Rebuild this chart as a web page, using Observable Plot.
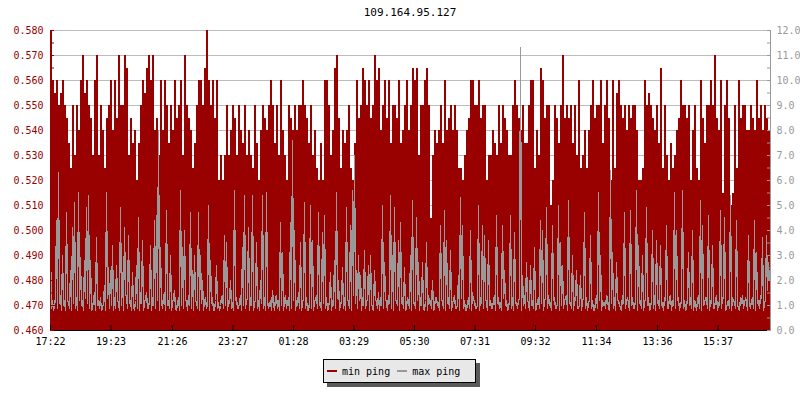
<!DOCTYPE html>
<html><head><meta charset="utf-8">
<script src="https://cdn.jsdelivr.net/npm/d3@7"></script>
<script src="https://cdn.jsdelivr.net/npm/@observablehq/plot@0.6"></script>
<style>
body{margin:0;background:#fff;font-family:"DejaVu Sans Mono",monospace;}
#wrap{position:relative;width:800px;height:400px;overflow:hidden;}
#title{position:absolute;left:50px;width:720px;top:6px;text-align:center;font-size:11px;color:#000;}
#legend{position:absolute;left:323px;top:359px;width:153px;height:24px;box-sizing:border-box;border:1px solid #000;background:#e8e8e8;box-shadow:4px 4px 0 #5a5a5a;display:flex;align-items:center;padding-left:3px;font-size:10px;color:#000;}
#legend .sw{display:inline-block;width:10px;height:2px;margin-right:5px;}
#legend .it{display:flex;align-items:center;margin-right:7px;}
</style></head><body>
<div id="wrap"><div id="chart"></div><div id="title"></div><div id="legend"></div></div>
<script>
const title = "109.164.95.127";
const seriesNames = ["min ping", "max ping"];
const seriesColors = ["#990000", "#999999"];
const startTime = "17:22";
const minStepMinutes = 4;
const maxStepMinutes = 2;
const spanMinutes = 1440;
const timeLabels = ["17:22","19:23","21:26","23:27","01:28","03:29","05:30","07:31","09:32","11:34","13:36","15:37"];
const leftDomain = [0.46, 0.58];
const rightDomain = [0, 12];
const leftTicks = [0.46,0.47,0.48,0.49,0.50,0.51,0.52,0.53,0.54,0.55,0.56,0.57,0.58];
const leftMinorTicks = [0.465,0.475,0.485,0.495,0.505,0.515,0.525,0.535,0.545,0.555,0.565,0.575];

// min ping (left axis, ms) one value every 4 minutes
const minPing = [
0.58,0.56,0.555,0.56,0.55, 0.555,0.56,0.55,0.545,0.535, 0.525,0.55,0.53,0.55,0.54, 0.56,0.57,0.555,0.56,0.55,
0.545,0.53,0.56,0.57,0.53, 0.55,0.54,0.525,0.545,0.55, 0.56,0.54,0.56,0.545,0.57, 0.55,0.55,0.57,0.565,0.53,
0.545,0.535,0.54,0.52,0.535, 0.55,0.56,0.555,0.565,0.57, 0.56,0.57,0.54,0.545,0.53, 0.56,0.54,0.56,0.55,0.535,
0.55,0.54,0.56,0.545,0.55, 0.56,0.53,0.57,0.55,0.545, 0.54,0.525,0.535,0.55,0.56, 0.56,0.55,0.565,0.58,0.56,
0.55,0.56,0.545,0.56,0.52, 0.53,0.52,0.53,0.55,0.53, 0.54,0.55,0.545,0.53,0.55, 0.54,0.535,0.55,0.53,0.54,
0.53,0.525,0.55,0.535,0.52, 0.54,0.55,0.545,0.54,0.55, 0.56,0.55,0.535,0.55,0.53, 0.56,0.54,0.53,0.52,0.55,
0.545,0.54,0.55,0.54,0.55, 0.55,0.56,0.55,0.545,0.535, 0.55,0.53,0.54,0.525,0.52, 0.535,0.52,0.56,0.56,0.55,
0.53,0.54,0.565,0.57,0.545, 0.525,0.54,0.535,0.54,0.55, 0.525,0.52,0.535,0.56,0.545, 0.55,0.565,0.56,0.55,0.56,
0.545,0.55,0.57,0.56,0.565, 0.54,0.55,0.56,0.545,0.56, 0.535,0.55,0.55,0.545,0.56, 0.535,0.54,0.55,0.56,0.54,
0.55,0.565,0.56,0.565,0.53, 0.55,0.55,0.56,0.565,0.55, 0.505,0.53,0.54,0.535,0.54, 0.55,0.535,0.56,0.54,0.545,
0.55,0.54,0.55,0.54,0.525, 0.525,0.52,0.53,0.54,0.545, 0.56,0.56,0.55,0.55,0.56, 0.545,0.55,0.55,0.52,0.53,
0.53,0.54,0.535,0.53,0.55, 0.535,0.55,0.545,0.54,0.53, 0.53,0.55,0.56,0.55,0.545, 0.54,0.55,0.535,0.535,0.55,
0.56,0.56,0.525,0.54,0.53, 0.565,0.56,0.545,0.55,0.55, 0.51,0.52,0.55,0.545,0.535, 0.55,0.57,0.545,0.55,0.545,
0.55,0.535,0.55,0.53,0.56, 0.525,0.53,0.54,0.525,0.54, 0.55,0.56,0.545,0.55,0.55, 0.56,0.535,0.55,0.56,0.545,
0.52,0.56,0.525,0.555,0.56, 0.55,0.545,0.55,0.54,0.55, 0.545,0.55,0.55,0.54,0.52, 0.52,0.525,0.56,0.55,0.555,
0.55,0.545,0.54,0.55,0.535, 0.565,0.525,0.55,0.53,0.52, 0.535,0.525,0.53,0.54,0.545, 0.56,0.55,0.55,0.545,0.55,
0.52,0.54,0.55,0.525,0.52, 0.56,0.545,0.535,0.55,0.55, 0.56,0.55,0.57,0.545,0.54, 0.56,0.515,0.55,0.56,0.545,
0.51,0.515,0.55,0.525,0.56, 0.545,0.55,0.55,0.54,0.54, 0.55,0.545,0.54,0.56,0.545, 0.55,0.54,0.55,0.545,0.54
];

// max ping (right axis, ms) one value every 2 minutes
const maxPing = [
3.2,0.9,1.2,0.8,1.0,1.3,4.4,0.9,6.3,1.1,1.4,0.8,3.0,1.0,1.2,0.8,4.7,1.2,1.1,0.9,
2.4,0.8,4.1,1.1,5.1,0.9,1.3,0.8,5.5,1.2,2.9,1.0,1.2,0.8,2.8,1.3,4.9,1.1,5.4,0.9,
2.8,0.8,0.9,1.2,1.5,0.8,3.7,1.0,1.2,0.9,1.3,0.8,0.9,1.1,1.8,0.8,5.5,1.3,2.5,0.9,
2.4,1.0,3.4,0.8,1.3,0.9,2.6,1.2,1.1,0.8,4.9,1.0,2.3,0.8,4.1,1.4,1.4,0.9,3.8,1.1,
1.2,0.8,2.3,1.0,0.8,1.2,2.6,0.9,4.5,0.8,1.5,1.1,3.6,0.8,1.1,1.3,1.5,0.9,0.9,1.2,
3.4,0.8,1.3,1.0,4.4,0.9,4.6,1.2,8.0,0.8,3.3,1.1,0.9,1.4,1.5,0.8,4.8,1.0,1.2,0.9,
3.0,0.8,1.1,1.3,1.6,0.9,0.8,1.1,1.3,0.8,5.6,1.0,3.3,0.9,4.0,1.2,1.2,0.8,1.4,1.0,
4.7,0.9,2.4,0.8,3.0,1.2,1.1,0.9,4.7,0.8,3.0,1.1,2.0,0.8,1.2,1.3,0.9,1.0,5.0,0.8,
2.8,1.1,1.3,0.8,0.8,1.2,2.6,0.9,1.1,0.8,1.0,1.3,1.4,0.9,3.8,1.0,3.5,0.8,1.2,1.1,
2.0,0.9,1.1,0.8,5.6,1.2,1.3,0.9,0.9,1.1,1.4,0.8,3.3,1.0,5.4,0.9,1.2,1.3,4.1,0.8,
1.3,1.0,5.4,0.8,1.1,1.2,3.5,0.9,1.2,0.8,2.0,1.1,5.4,0.9,1.3,0.8,5.5,1.2,0.9,1.0,
1.2,0.8,1.6,1.1,0.8,1.3,1.4,0.9,1.2,0.8,4.3,1.0,3.1,0.8,1.2,1.4,0.9,1.1,1.3,0.8,
4.3,0.9,7.6,1.2,4.0,0.8,1.2,1.0,1.5,0.9,3.5,0.8,1.1,1.3,5.1,0.9,1.3,0.8,0.8,1.1,
5.0,0.9,3.6,0.8,1.2,1.2,1.4,0.9,4.7,1.0,1.1,0.8,3.9,1.1,4.6,0.9,1.3,0.8,0.9,1.2,
2.3,0.8,1.2,1.0,2.8,0.9,5.5,1.3,2.0,0.8,1.1,1.1,2.5,0.9,1.3,0.8,4.9,1.2,1.2,0.9,
4.2,0.8,5.6,1.4,7.0,1.1,2.4,0.9,3.0,1.2,2.2,0.8,1.3,1.0,3.2,0.9,1.1,1.3,2.6,0.8,
3.0,1.1,0.9,0.8,2.4,1.2,1.2,0.9,1.5,0.8,1.3,1.0,5.0,0.9,2.7,1.3,1.1,0.8,1.4,1.1,
5.4,0.9,3.0,0.8,4.9,1.2,1.2,1.0,3.6,0.8,4.3,1.1,1.3,0.9,2.5,0.8,0.9,1.3,1.2,0.9,
3.0,0.8,5.2,1.1,1.1,0.9,4.5,1.2,2.7,0.8,1.3,1.0,2.7,0.9,0.8,1.2,3.5,0.8,1.4,1.1,
1.2,0.9,2.0,0.8,0.9,1.3,1.3,1.0,1.1,0.8,4.2,1.2,1.2,0.9,4.8,0.8,3.6,1.1,1.3,0.9,
3.2,0.8,1.1,1.2,1.4,0.9,0.9,1.0,2.2,0.8,5.3,1.3,4.2,0.9,1.2,0.8,0.8,1.1,1.3,0.9,
4.0,0.8,1.5,1.2,1.2,0.9,0.9,1.0,5.0,0.8,1.3,1.1,4.2,0.9,3.8,1.3,1.1,0.8,3.6,1.0,
1.2,0.9,0.9,1.2,1.4,0.8,4.6,1.1,1.3,0.9,1.1,0.8,4.2,1.3,2.4,1.0,1.2,0.8,0.9,1.2,
4.6,0.9,1.3,0.8,3.9,1.1,1.1,0.9,1.2,1.3,11.3,0.8,2.2,1.0,1.4,0.9,2.7,1.2,1.1,0.8,
2.6,1.0,1.2,0.9,3.3,0.8,0.9,1.2,1.3,0.9,4.4,1.1,4.0,0.8,1.2,1.3,4.9,0.9,1.4,1.0,
1.1,0.8,4.2,1.2,1.3,0.9,0.9,1.1,5.0,0.8,3.5,1.0,2.6,0.9,1.2,1.3,1.4,0.8,5.2,1.1,
1.1,0.9,3.0,0.8,1.3,1.2,2.4,0.9,0.9,1.0,2.2,0.8,1.2,1.3,4.7,0.9,1.3,0.8,1.1,1.2,
3.8,0.9,1.2,0.8,0.8,1.1,1.4,0.9,5.5,1.2,3.0,0.8,1.2,1.0,1.1,0.9,1.4,1.3,0.9,0.8,
6.4,1.1,3.1,0.9,1.3,0.8,2.7,1.2,1.2,1.0,0.9,0.8,1.4,1.1,4.7,0.9,1.2,1.3,1.1,0.8,
4.8,1.0,1.3,0.9,0.9,1.2,5.6,0.8,3.4,1.1,1.2,0.9,3.0,0.8,1.1,1.3,4.9,1.0,1.3,0.8,
0.9,1.2,4.0,0.9,1.4,0.8,3.6,1.1,1.2,0.9,3.4,1.0,1.1,0.8,1.3,1.2,4.2,0.9,0.9,1.3,
1.4,0.8,1.2,1.0,5.5,0.9,4.0,1.2,1.3,0.8,1.1,1.1,5.6,0.9,1.2,0.8,0.9,1.3,3.1,1.0,
1.3,0.9,4.0,0.8,1.2,1.1,0.8,1.2,1.4,0.9,5.2,0.8,4.2,1.0,1.1,1.3,1.3,0.9,4.6,0.8,
1.2,1.1,3.4,0.9,0.9,1.2,1.4,0.8,1.1,1.0,4.8,0.9,1.3,1.3,4.5,0.8,0.9,1.1,1.2,0.9,
5.4,0.8,1.3,1.2,1.1,0.9,4.4,1.0,0.9,0.8,1.3,1.1,1.4,0.9,1.1,1.3,1.2,0.8,3.8,1.0,
0.9,1.2,1.3,0.9,4.4,0.8,3.1,1.1,1.2,0.9,1.4,1.3,3.7,0.8,1.1,1.2,3.8,1.6,2.7,2.0
];

const MIN = 60000;
function hm(s){ const [h,m] = s.split(":").map(Number); return h*60+m; }
const base = Date.UTC(2024,0,1) + hm(startTime)*MIN;
const start = new Date(base);
const end = new Date(base + spanMinutes*MIN);
let day = 0, prev = -1;
const tickDates = timeLabels.map(s => {
  const m = hm(s);
  if (m < prev) day++;
  prev = m;
  return new Date(Date.UTC(2024,0,1) + (day*1440 + m)*MIN);
});
const minRows = minPing.map((v,i) => ({t: new Date(base + i*minStepMinutes*MIN), v}));
minRows.push({t: new Date(base + minPing.length*minStepMinutes*MIN), v: minPing[minPing.length-1]});
const maxRows = maxPing.map((v,i) => ({t: new Date(base + i*maxStepMinutes*MIN), v}));
const toLeft = v => leftDomain[0] + (v - rightDomain[0])*(leftDomain[1]-leftDomain[0])/(rightDomain[1]-rightDomain[0]);
const toRight = v => rightDomain[0] + (v - leftDomain[0])*(rightDomain[1]-rightDomain[0])/(leftDomain[1]-leftDomain[0]);
const fmtTime = d3.utcFormat("%H:%M");

const chart = Plot.plot({
  width: 800, height: 400,
  marginLeft: 50, marginRight: 30, marginTop: 30, marginBottom: 70,
  style: {fontFamily: '"DejaVu Sans Mono", monospace', fontSize: "10px", background: "#fff"},
  x: {type: "utc", domain: [start, end]},
  y: {domain: leftDomain},
  marks: [
    Plot.gridY(leftTicks, {stroke: "#bdbdbd", strokeOpacity: 1}),
    Plot.areaY(minRows, {x: "t", y1: () => leftDomain[0], y2: "v", curve: "step-after", fill: seriesColors[0], shapeRendering: "crispEdges"}),
    Plot.line(maxRows, {x: "t", y: d => toLeft(d.v), stroke: seriesColors[1], strokeWidth: 1.3, shapeRendering: "crispEdges"}),
    Plot.ruleX([start], {stroke: seriesColors[0]}),
    Plot.ruleX([end], {stroke: "#999999"}),
    Plot.ruleY([leftDomain[0]], {stroke: "#000"}),
    Plot.axisY(leftTicks, {anchor: "left", tickSize: -4, stroke: seriesColors[0], fill: "none", label: null}),
    Plot.axisY(leftMinorTicks, {anchor: "left", tickSize: -4, stroke: seriesColors[0], fill: "none", label: null}),
    Plot.axisY(leftTicks, {anchor: "left", tickSize: 0, tickPadding: 7, fill: seriesColors[0], tickFormat: d3.format(".3f"), label: null}),
    Plot.axisY(leftTicks, {anchor: "right", tickSize: -4, stroke: "#999999", fill: "none", label: null}),
    Plot.axisY(leftMinorTicks, {anchor: "right", tickSize: -4, stroke: "#999999", fill: "none", label: null}),
    Plot.axisY(leftTicks, {anchor: "right", tickSize: 0, tickPadding: 6, fill: "#999999", tickFormat: d => toRight(d).toFixed(1), label: null}),
    Plot.axisX(tickDates, {anchor: "bottom", tickSize: -5, stroke: "#000", fill: "none", label: null}),
    Plot.axisX(tickDates, {anchor: "bottom", tickSize: 0, tickPadding: 7, fill: "#000", tickFormat: fmtTime, label: null})
  ]
});
document.getElementById("chart").appendChild(chart);
document.getElementById("title").textContent = title;
const lg = document.getElementById("legend");
seriesNames.forEach((n,i) => {
  const it = document.createElement("span"); it.className = "it";
  const sw = document.createElement("span"); sw.className = "sw"; sw.style.background = seriesColors[i];
  const tx = document.createElement("span"); tx.textContent = n;
  it.appendChild(sw); it.appendChild(tx); lg.appendChild(it);
});
</script>
</body></html>
